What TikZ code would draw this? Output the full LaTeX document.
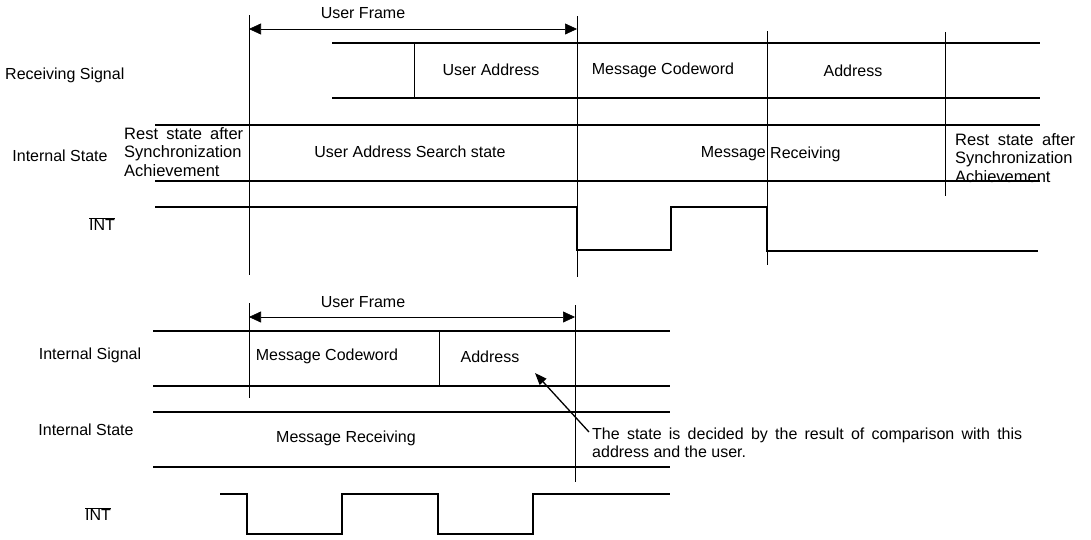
\documentclass[tikz,border=0pt]{standalone}
\usepackage{fontspec}
\setmainfont{Liberation Sans}
\usetikzlibrary{arrows.meta}
\begin{document}
\begin{tikzpicture}[x=1pt,y=-1pt,
  sig/.style={line width=1.7pt},
  guide/.style={line width=0.8pt},
  lbl/.style={font=\fontsize{16}{18.5}\selectfont, inner sep=0pt},
  restlbl/.style={font=\fontsize{16.5}{18.5}\selectfont, inner sep=0pt, anchor=west, align=left},
  span/.style={line width=0.6pt, {Triangle[length=12pt,width=11pt]}-{Triangle[length=12pt,width=11pt]}},
  pointer/.style={line width=1.3pt, -{Triangle[length=12pt,width=9pt]}}]
\useasboundingbox (0,0) rectangle (1091,539);

% ---------------- upper diagram ----------------
% time markers
\draw[guide] (249,15) -- (249,275);
\draw[guide] (577,16) -- (577,277);
\draw[guide] (767,31) -- (767,265);
\draw[guide] (945,32) -- (945,196);

% user frame span
\coordinate (uf1a) at (249,29);
\coordinate (uf1b) at (577,29);
\draw[span] (uf1a) -- (uf1b);
\node[lbl] (uf1) at (363,13) {User Frame};

% receiving signal
\draw[sig] (332,43) -- (1040,43);
\draw[sig] (332,98) -- (1040,98);
\draw[guide] (414,43) -- (414,98);
\node[lbl, anchor=west] (rxlbl) at (5,75) {Receiving Signal};
\node[lbl] (rxua) at (491,70) {User Address};
\node[lbl] (rxmc) at (663,70) {Message Codeword};
\node[lbl] (rxad) at (853,71) {Address};

% internal state
\draw[sig] (155,125) -- (1040,125);
\draw[sig] (155,181) -- (1040,181);
\node[lbl] (islbl) at (60,156) {Internal State};
\node[restlbl] (rest1) at (124,152)
  {\makebox[119pt][s]{Rest state after}\\Synchronization\\Achievement};
\node[lbl] (uas) at (410,152) {User Address Search state};
\node[lbl, anchor=east] (mr1) at (766,154) {Message};
\node[lbl, anchor=west] (mr2) at (770,154) {Receiving};
\node[restlbl] (rest2) at (955,158)
  {\makebox[120pt][s]{Rest state after}\\Synchronization\\Achievement};

% interrupt line
\draw[sig] (155,207) -| (577,250) -| (671,207) -| (767,251) -- (1038,251);
\node[lbl] (int1) at (102,224) {$\overline{\mbox{INT}}$};

% ---------------- lower diagram ----------------
\draw[guide] (249,303) -- (249,398);
\draw[guide] (575,305) -- (575,482);

\coordinate (uf2a) at (249,317);
\coordinate (uf2b) at (575,317);
\draw[span] (uf2a) -- (uf2b);
\node[lbl] (uf2) at (363,302) {User Frame};

% internal signal
\draw[sig] (153,331) -- (670,331);
\draw[sig] (153,386) -- (670,386);
\draw[guide] (439,331) -- (439,386);
\node[lbl] (islbl2) at (90,355) {Internal Signal};
\node[lbl] (mc2) at (327,356) {Message Codeword};
\node[lbl] (ad2) at (490,357) {Address};

% internal state
\draw[sig] (153,412) -- (670,412);
\draw[sig] (153,467) -- (670,467);
\node[lbl] (istlbl2) at (86,430) {Internal State};
\node[lbl] (mr3) at (346,438) {Message Receiving};

% interrupt line
\draw[sig] (220,494) -| (247,534) -| (342,494) -| (438,534) -| (533,494) -- (670,494);
\node[lbl] (int2) at (98,514) {$\overline{\mbox{INT}}$};

% note on the address comparison
\node[lbl, anchor=west, align=left] (note) at (592,443)
  {\makebox[430pt][s]{The state is decided by the result of comparison with this}\\address and the user.};
\coordinate (tail) at (589,432);
\coordinate (tip) at (535,373);
\draw[pointer] (tail) -- (tip);
\end{tikzpicture}
\end{document}
